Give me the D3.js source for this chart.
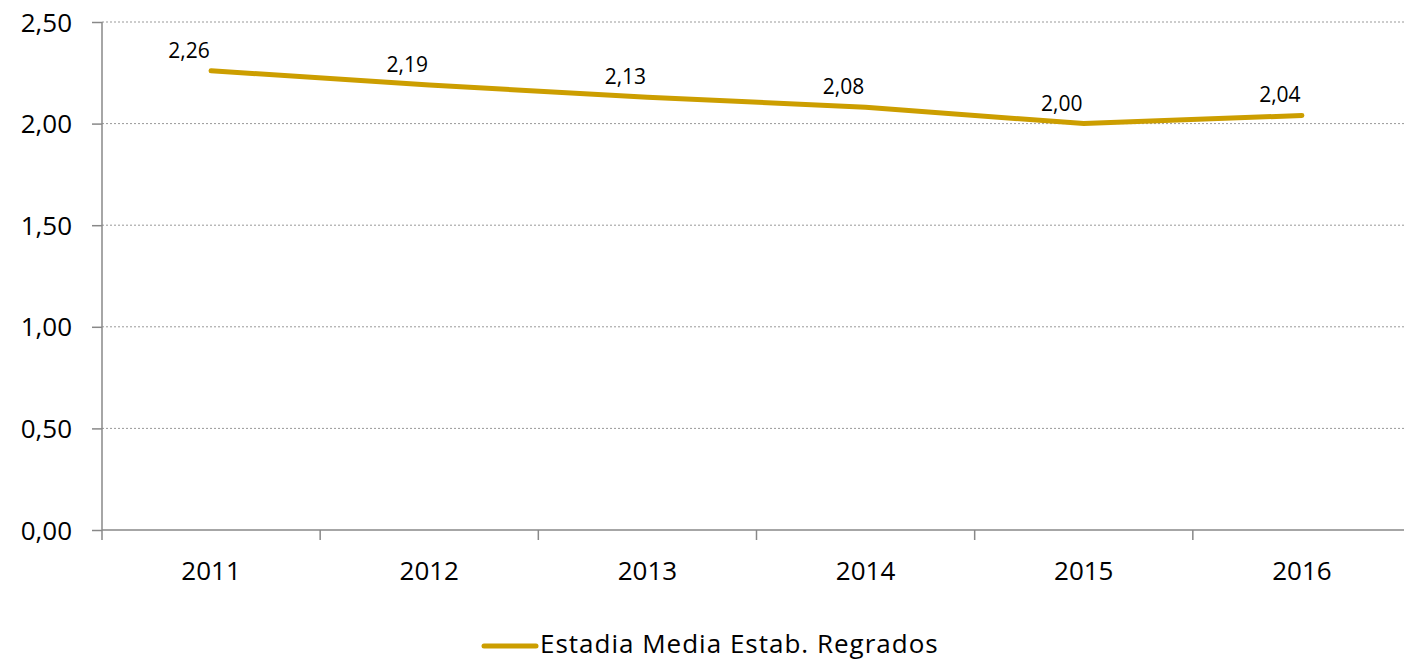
<!DOCTYPE html>
<html><head><meta charset="utf-8">
<script src="https://cdn.jsdelivr.net/npm/d3@7"></script>
<style>body{margin:0;background:#fff}svg{display:block}text{font-family:"Open Sans",sans-serif;fill:#000}</style>
</head><body><svg id="c" width="1404" height="660"></svg>
<script>
const categories = ["2011","2012","2013","2014","2015","2016"];
const values = [2.26,2.19,2.13,2.08,2.00,2.04];
const labels = ["2,26","2,19","2,13","2,08","2,00","2,04"];
const yTicks = [0,0.5,1,1.5,2,2.5];
const seriesName = "Estadia Media Estab. Regrados";
const color = "#CC9E00";

(function(){
const svg = d3.select("#c");
const pL = 102, pR = 1411, pT = 22, pB = 530;
const x = d3.scaleBand().domain(categories).range([pL, pR]);
const y = d3.scaleLinear().domain([0,2.5]).range([pB, pT]);
const fmt = d => d.toFixed(2).replace(".", ",");

// gridlines
svg.append("g").selectAll("line").data(yTicks.filter(d=>d>0)).join("line")
  .attr("x1", pL).attr("x2", 1404).attr("y1", d=>y(d)).attr("y2", d=>y(d))
  .attr("stroke", "#999").attr("stroke-width", 1).attr("stroke-dasharray", "2,2");

// y axis
const ya = svg.append("g").attr("transform", `translate(${pL},0)`)
  .call(d3.axisLeft(y).tickValues(yTicks).tickFormat(fmt).tickSize(10).tickPadding(20));
ya.select(".domain").attr("stroke", "#888").attr("stroke-width", 1.5).attr("d", `M0,${pT}V${pB}`);
ya.selectAll(".tick line").attr("stroke", "#888").attr("stroke-width", 1.5);
ya.selectAll("text").style("font-size", "26px").attr("fill", "#000").attr("dy", "0.35em");

// x axis
const xa = svg.append("g").attr("transform", `translate(0,${pB})`)
  .call(d3.axisBottom(x).tickSize(0));
xa.select(".domain").attr("stroke", "#888").attr("stroke-width", 1.5).attr("d", `M${pL},0H1404`);
xa.selectAll("text").style("font-size", "26px").attr("fill", "#000").attr("y", 50).attr("dy", 0);
svg.append("g").selectAll("line").data(categories).join("line")
  .attr("x1", d=>x(d)).attr("x2", d=>x(d)).attr("y1", pB).attr("y2", pB+10)
  .attr("stroke", "#888").attr("stroke-width", 1.5);

// line
const cx = d => x(d) + x.bandwidth()/2;
svg.append("path").datum(values.map((v,i)=>[categories[i], v]))
  .attr("fill", "none").attr("stroke", color).attr("stroke-width", 5).attr("stroke-linecap", "round")
  .attr("d", d3.line().x(d=>cx(d[0])).y(d=>y(d[1])));

// data labels
svg.append("g").selectAll("text").data(values).join("text")
  .attr("x", (d,i)=>cx(categories[i]) - 22).attr("y", d=>y(d) - 13)
  .attr("text-anchor", "middle").style("font-size", "21px").text((d,i)=>labels[i]);

// legend
svg.append("line").attr("x1", 484).attr("x2", 536).attr("y1", 646).attr("y2", 646)
  .attr("stroke", color).attr("stroke-width", 5).attr("stroke-linecap", "round");
svg.append("text").attr("x", 540).attr("y", 653).style("font-size", "26px")
  .style("letter-spacing", "1px").text(seriesName);
})();
</script></body></html>
